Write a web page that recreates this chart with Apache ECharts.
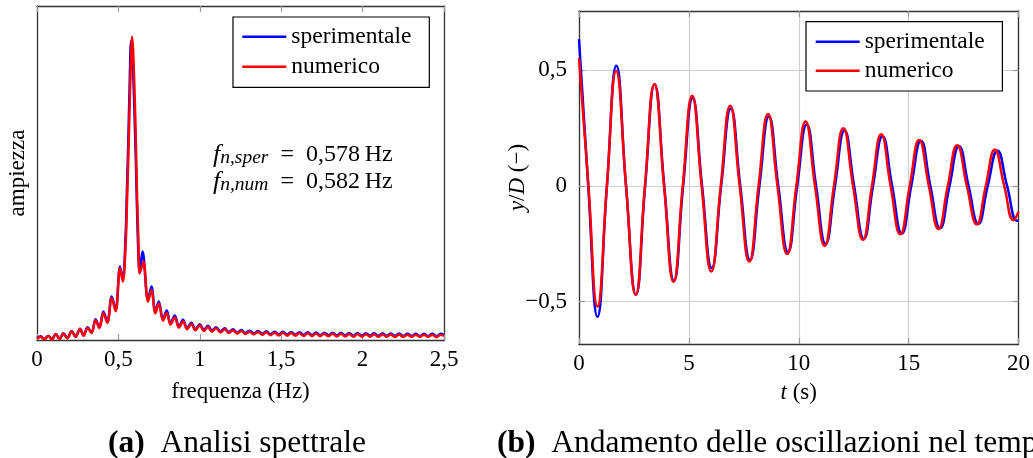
<!DOCTYPE html>
<html><head><meta charset="utf-8">
<script src="https://cdn.jsdelivr.net/npm/echarts@6/dist/echarts.min.js"></script>
<style>html,body{margin:0;padding:0;background:#fff;overflow:hidden}#c{width:1033px;height:458px}</style>
</head><body><div id="c"></div>
<script>
// ---------- spectrum (a) ----------
const specFreq = [0.000,0.023,0.045,0.070,0.092,0.115,0.139,0.162,0.186,0.213,0.237,0.264,0.286,0.311,0.335,0.360,0.383,0.408,0.432,0.459,0.483,0.510,0.527,
  0.544,0.552,0.561,0.569,0.578,0.584,0.591,0.600,0.608,0.614,0.622,0.631,0.648,0.655,0.682,0.703,0.727,0.748,0.774,0.797,0.820,0.846,0.872,0.897,0.922,0.948,0.973,
  1.000,1.025,1.050,1.075,1.100,1.127,1.153,1.178,1.204,1.229,1.255,1.280,1.306,1.332,1.358,1.383,1.409,1.434,1.460,1.485,1.510,1.536,1.561,1.587,1.612,1.638,1.663,1.689,
  1.714,1.740,1.765,1.791,1.816,1.842,1.867,1.893,1.918,1.944,1.969,1.995,2.020,2.046,2.071,2.097,2.122,2.148,2.173,2.199,2.224,2.250,2.275,2.301,2.326,2.352,2.377,2.403,2.428,2.454,2.479,2.500];
const specSper = [0.6,1.1,0.3,1.3,0.2,1.8,0.4,2.0,0.6,2.7,1.0,3.4,1.4,3.8,2.2,6.2,3.8,8.5,5.4,13.0,9.0,22.0,18.0,
  31,44,60,76,89.5,87,80,66,52,40,27,20,26.5,25,12,16,8.5,11.5,6.2,8.8,5.0,7.3,4.0,6.1,3.5,5.2,3.2,
  4.7,3.0,4.3,2.8,3.8,2.6,3.5,2.4,3.2,2.2,3.0,2.1,2.8,2.0,2.7,1.85,2.6,1.75,2.5,1.65,2.45,1.6,2.4,1.55,2.35,1.5,2.3,1.45,
  2.25,1.4,2.2,1.4,2.2,1.35,2.15,1.35,2.1,1.3,2.1,1.3,2.05,1.3,2.0,1.25,2.0,1.25,1.95,1.2,1.95,1.2,1.9,1.2,1.9,1.15,1.9,1.15,1.85,1.15,1.85,1.5];
const specNum = [0.4,1.0,0.2,1.2,0.1,1.7,0.3,1.9,0.5,2.6,0.9,3.3,1.3,3.6,2.1,5.9,3.6,8.1,5.1,12.6,8.6,21.5,17.5,
  28,40,55,70,85,90.8,86,73,58,44,31,20,22.5,23.5,11.5,15,8,10.9,5.8,8.1,4.6,6.7,3.7,5.6,3.2,4.8,2.9,
  4.4,2.7,3.9,2.5,3.5,2.3,3.2,2.1,2.9,1.95,2.7,1.8,2.5,1.7,2.4,1.55,2.3,1.45,2.2,1.35,2.15,1.3,2.1,1.25,2.05,1.2,2.0,1.15,
  1.95,1.1,1.9,1.1,1.9,1.05,1.85,1.05,1.8,1.0,1.8,1.0,1.75,1.0,1.7,0.95,1.7,0.95,1.65,0.9,1.65,0.9,1.6,0.9,1.6,0.9,1.6,0.9,1.6,0.85,1.6,1.2];
const specTicks = [0, 0.5, 1, 1.5, 2, 2.5];

// ---------- time history (b) ----------
const timeSper = [0,0.42,0.84,1.27,1.70,2.14,2.59,3.01,3.44,3.88,4.32,4.74,5.17,5.60,6.04,6.47,6.91,7.34,7.78,8.21,8.64,9.07,9.51,9.93,10.36,10.79,11.22,11.65,12.08,12.52,12.96,13.38,13.81,14.25,14.69,15.12,15.56,15.99,16.43,16.86,17.29,17.73,18.17,18.60,19.04,19.48,19.93,20.0];
const valSper  = [0.634,0,-0.565,0,0.519,0,-0.47,0,0.44,0,-0.41,0,0.38,0,-0.355,0,0.335,0,-0.32,0,0.30,0,-0.285,0,0.266,0,-0.25,0,0.24,0,-0.228,0,0.215,0,-0.205,0,0.195,0,-0.183,0,0.172,0,-0.164,0,0.152,0,-0.15,-0.149];
const timeNum  = [0,0.43,0.84,1.27,1.69,2.14,2.58,3.00,3.43,3.87,4.30,4.72,5.15,5.58,6.02,6.45,6.88,7.31,7.75,8.17,8.60,9.03,9.47,9.89,10.31,10.74,11.18,11.60,12.03,12.47,12.92,13.33,13.75,14.18,14.62,15.05,15.48,15.92,16.36,16.78,17.21,17.65,18.10,18.51,18.92,19.35,19.78,20.0];
const valNum   = [0.552,0,-0.521,0,0.497,0,-0.47,0,0.44,0,-0.415,0,0.39,0,-0.37,0,0.347,0,-0.327,0,0.311,0,-0.294,0,0.278,0,-0.259,0,0.249,0,-0.233,0,0.223,0,-0.209,0,0.199,0,-0.186,0,0.176,0,-0.166,0,0.156,0,-0.148,-0.111];
const timeTicks = [0, 5, 10, 15, 20];
const yTicks = [-0.5, 0, 0.5];

const seriesNames = ['sperimentale', 'numerico'];
const captionA = 'Analisi spettrale';
const captionB = 'Andamento delle oscillazioni nel tempo';

const FONT = "'Liberation Serif','DejaVu Serif',serif";
const BLUE = '#0000ff', RED = '#ff0000';
const LW = 2.5;
const fmt = v => String(v).replace('.', ',').replace('-', '\u2212');
const zip = (a, b) => a.map((x, i) => [x, b[i]]);

const frame = { show: true, onZero: false, lineStyle: { color: '#333', width: 1.3 } };
const tickIn = (show, custom) => ({ show: show, inside: true, length: 6, lineStyle: { color: '#999', width: 1.2 }, customValues: custom });
const lbl = (custom) => ({ fontFamily: FONT, fontSize: 23, color: '#000', margin: 8, formatter: fmt, customValues: custom });
const nameStyle = { fontFamily: FONT, fontSize: 23, color: '#000' };
const grid2Split = { show: true, lineStyle: { color: '#d0d0d0', width: 1.2 } };
const italicRich = { i: { fontFamily: FONT, fontSize: 23, fontStyle: 'italic', color: '#000' } };
const capRich = { b: { fontFamily: FONT, fontSize: 31.5, fontWeight: 'bold', fill: '#000' }, r: { fontFamily: FONT, fontSize: 31.5, fill: '#000' } };

const legendBase = {
  data: seriesNames, orient: 'vertical', icon: 'rect', itemWidth: 44, itemHeight: 2.4, itemGap: 0, selectedMode: false,
  borderColor: '#000', borderWidth: 1.2, backgroundColor: '#fff'
};

const chart = echarts.init(document.getElementById('c'), null, { renderer: 'canvas' });
chart.setOption({
  animation: false,
  backgroundColor: '#fff',
  grid: [
    { left: 37, top: 6, width: 407, height: 334 },
    { left: 579, top: 11, width: 440, height: 333 }
  ],
  xAxis: [
    { gridIndex: 0, type: 'value', position: 'bottom', min: specTicks[0], max: specTicks[specTicks.length - 1], interval: 0.5,
      axisLine: frame, axisTick: tickIn(true), axisLabel: lbl(), splitLine: { show: false },
      name: 'frequenza (Hz)', nameLocation: 'middle', nameGap: 40, nameMoveOverlap: false, nameTextStyle: nameStyle },
    { gridIndex: 0, type: 'value', position: 'top', min: specTicks[0], max: specTicks[specTicks.length - 1], interval: 0.5,
      axisLine: frame, axisTick: tickIn(true), axisLabel: { show: false }, splitLine: { show: false } },
    { gridIndex: 1, type: 'value', position: 'bottom', min: timeTicks[0], max: timeTicks[timeTicks.length - 1], interval: 5,
      axisLine: frame, axisTick: tickIn(true), axisLabel: lbl(), splitLine: grid2Split,
      name: '{i|t} (s)', nameLocation: 'middle', nameGap: 37, nameMoveOverlap: false,
      nameTextStyle: Object.assign({}, nameStyle, { rich: italicRich }) },
    { gridIndex: 1, type: 'value', position: 'top', min: timeTicks[0], max: timeTicks[timeTicks.length - 1], interval: 5,
      axisLine: frame, axisTick: tickIn(true), axisLabel: { show: false }, splitLine: { show: false } }
  ],
  yAxis: [
    { gridIndex: 0, type: 'value', position: 'left', min: 0, max: 100,
      axisLine: frame, axisTick: { show: false }, axisLabel: { show: false }, splitLine: { show: false },
      name: 'ampiezza', nameLocation: 'middle', nameGap: 8, nameMoveOverlap: false, nameTextStyle: nameStyle },
    { gridIndex: 0, type: 'value', position: 'right', min: 0, max: 100,
      axisLine: frame, axisTick: { show: false }, axisLabel: { show: false }, splitLine: { show: false } },
    { gridIndex: 1, type: 'value', position: 'left', min: -0.683, max: 0.756,
      axisLine: frame, axisTick: tickIn(true, yTicks), axisLabel: Object.assign(lbl(yTicks), { margin: 12 }), splitLine: grid2Split,
      name: '{i|y}/{i|D} (\u2212)', nameLocation: 'middle', nameGap: 50, nameMoveOverlap: false,
      nameTextStyle: Object.assign({}, nameStyle, { rich: italicRich }) },
    { gridIndex: 1, type: 'value', position: 'right', min: -0.683, max: 0.756,
      axisLine: frame, axisTick: tickIn(true, yTicks), axisLabel: { show: false }, splitLine: { show: false } }
  ],
  legend: [
    Object.assign({}, legendBase, { left: 233, top: 17, padding: [4.7, 14, 5.6, 9.3],
      textStyle: { fontFamily: FONT, fontSize: 23.5, color: '#000', lineHeight: 30, width: 124 } }),
    Object.assign({}, legendBase, { left: 806, top: 21.7, padding: [5.5, 13.7, 5.8, 9.7],
      textStyle: { fontFamily: FONT, fontSize: 23.5, color: '#000', lineHeight: 29, width: 124 } })
  ],
  series: [
    { name: seriesNames[0], type: 'line', xAxisIndex: 0, yAxisIndex: 0, data: zip(specFreq, specSper), color: BLUE,
      symbol: 'none', smooth: 0.35, lineStyle: { color: BLUE, width: LW }, z: 2 },
    { name: seriesNames[1], type: 'line', xAxisIndex: 0, yAxisIndex: 0, data: zip(specFreq, specNum), color: RED,
      symbol: 'none', smooth: 0.35, lineStyle: { color: RED, width: LW }, z: 3 },
    { name: seriesNames[0], type: 'line', xAxisIndex: 2, yAxisIndex: 2, data: zip(timeSper, valSper), color: BLUE,
      symbol: 'none', smooth: 0.5, lineStyle: { color: BLUE, width: LW }, z: 2 },
    { name: seriesNames[1], type: 'line', xAxisIndex: 2, yAxisIndex: 2, data: zip(timeNum, valNum), color: RED,
      symbol: 'none', smooth: 0.5, lineStyle: { color: RED, width: LW }, z: 3 }
  ],
  graphic: [
    { type: 'text', left: 213, top: 142, z: 10,
      style: {
        text: '{f|f}{s|n,sper}{e|  =  0,578\u2009Hz}\n{f|f}{s|n,num}{e|  =  0,582\u2009Hz}',
        rich: {
          f: { fontFamily: FONT, fontSize: 26, fontStyle: 'italic', lineHeight: 26.7, fill: '#000' },
          s: { fontFamily: FONT, fontSize: 19.5, fontStyle: 'italic', lineHeight: 13, verticalAlign: 'bottom', fill: '#000' },
          e: { fontFamily: FONT, fontSize: 24, lineHeight: 26.7, fill: '#000' }
        }
      } },
    { type: 'text', x: 237, y: 428, z: 10,
      style: { text: '{b|(a)}{r|  ' + captionA + '}', align: 'center', verticalAlign: 'top', rich: capRich } },
    { type: 'text', x: 497, y: 428, z: 10,
      style: { text: '{b|(b)}{r|  ' + captionB + '}', align: 'left', verticalAlign: 'top', rich: capRich } }
  ]
});
</script></body></html>
